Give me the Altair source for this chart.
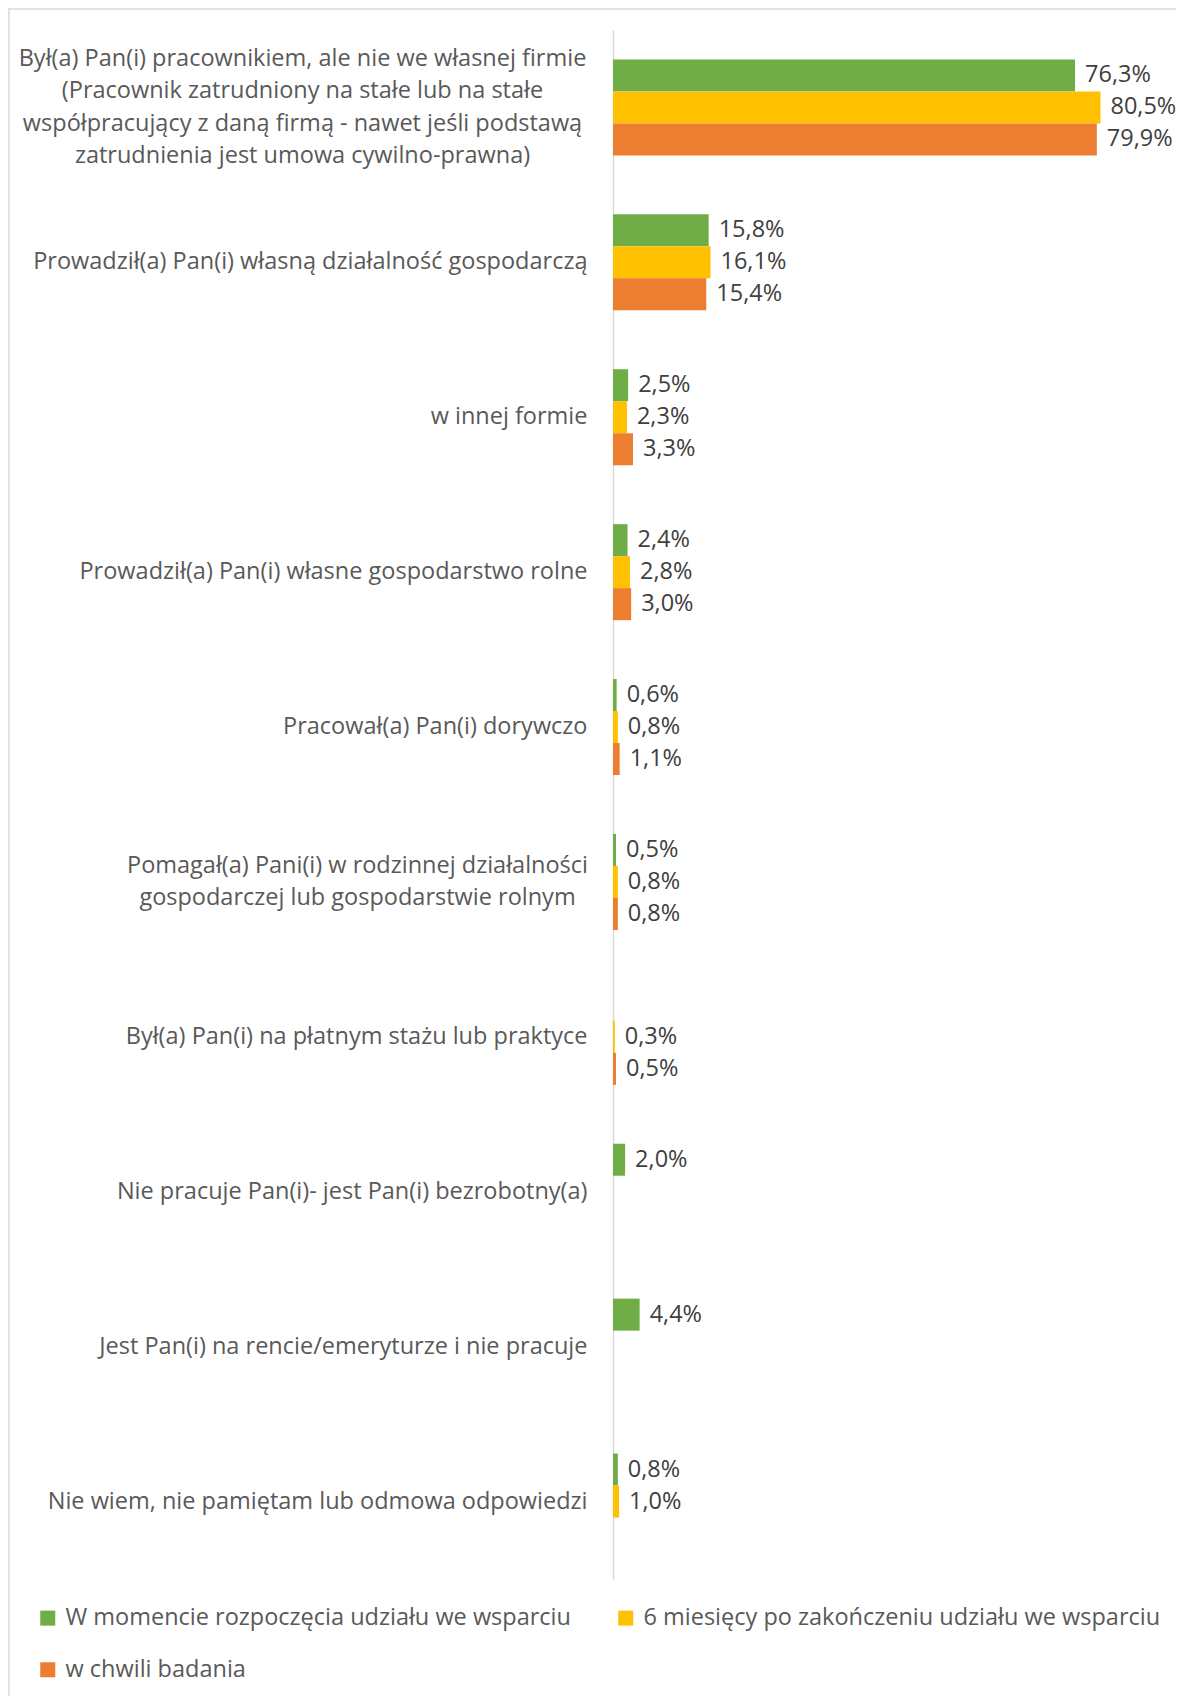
import altair as alt
import pandas as pd

categories = [
    "Był(a) Pan(i) pracownikiem, ale nie we własnej firmie|(Pracownik zatrudniony na stałe lub na stałe|współpracujący z daną firmą - nawet jeśli podstawą|zatrudnienia jest umowa cywilno-prawna)",
    "Prowadził(a) Pan(i) własną działalność gospodarczą",
    "w innej formie\u00a0",
    "Prowadził(a) Pan(i) własne gospodarstwo rolne",
    "Pracował(a) Pan(i) dorywczo",
    "Pomagał(a) Pani(i) w rodzinnej działalności|gospodarczej lub gospodarstwie rolnym",
    "Był(a) Pan(i) na płatnym stażu lub praktyce",
    "Nie pracuje Pan(i)- jest Pan(i) bezrobotny(a)",
    "Jest Pan(i) na rencie/emeryturze i nie pracuje",
    "Nie wiem, nie pamiętam lub odmowa odpowiedzi",
]
series = [
    "W momencie rozpoczęcia udziału we wsparciu",
    "6 miesięcy po zakończeniu udziału we wsparciu",
    "w chwili badania",
]
green = [76.3, 15.8, 2.5, 2.4, 0.6, 0.5, None, 2.0, 4.4, 0.8]
yellow = [80.5, 16.1, 2.3, 2.8, 0.8, 0.8, 0.3, None, None, 1.0]
orange = [79.9, 15.4, 3.3, 3.0, 1.1, 0.8, 0.5, None, None, None]
colors = ["#70AD47", "#FFC000", "#ED7D31"]

rows = []
for s, vals in zip(series, [green, yellow, orange]):
    for c, v in zip(categories, vals):
        if v is not None:
            rows.append({"kategoria": c, "seria": s, "wartosc": v})
df = pd.DataFrame(rows)

FONT = "Open Sans"
FS = 23.5
LH = 32.6

y_enc = alt.Y(
    "kategoria:N",
    sort=categories,
    scale=alt.Scale(paddingInner=0.38, paddingOuter=0.19),
    axis=alt.Axis(
        title=None,
        ticks=False,
        grid=False,
        domain=True,
        domainColor="#d9d9d9",
        domainWidth=1.5,
        labelFont=FONT,
        labelFontSize=FS,
        labelColor="#595959",
        labelLimit=0,
        labelLineHeight=LH,
        labelExpr="split(datum.label, '|')",
        labelAlign={
            "condition": {"test": "indexof(datum.value, '|') >= 0", "value": "center"},
            "value": "right",
        },
        labelPadding={
            "condition": [
                {"test": "indexof(datum.value, 'pracownikiem') >= 0", "value": 311},
                {"test": "indexof(datum.value, 'Pomagał') >= 0", "value": 256},
            ],
            "value": 26,
        },
        labelOffset={
            "condition": [
                {"test": "indexof(datum.value, 'pracownikiem') >= 0", "value": -1.5 * LH},
                {"test": "indexof(datum.value, 'Pomagał') >= 0", "value": -0.5 * LH},
            ],
            "value": 0,
        },
    ),
)
x_enc = alt.X("wartosc:Q", scale=alt.Scale(domain=[0, 90]), axis=None)
yoff = alt.YOffset("seria:N", sort=series, scale=alt.Scale(paddingInner=0, paddingOuter=0))

bars = alt.Chart(df).mark_bar().encode(
    x=x_enc,
    y=y_enc,
    yOffset=yoff,
    color=alt.Color(
        "seria:N",
        sort=series,
        scale=alt.Scale(domain=series, range=colors),
        legend=alt.Legend(
            title=None,
            orient="none",
            legendX=-577,
            legendY=1576,
            padding=0,
            columns=2,
            direction="horizontal",
            symbolType="square",
            symbolSize=225,
            symbolStrokeWidth=0,
            labelFont=FONT,
            labelFontSize=FS,
            labelColor="#595959",
            labelOffset=6,
            labelLimit=0,
            columnPadding=43,
            rowPadding=27,
        ),
    ),
)

text = (
    alt.Chart(df)
    .transform_calculate(lab="replace(format(datum.wartosc, '.1f'), '.', ',') + '%'")
    .mark_text(align="left", baseline="middle", dx=10, font=FONT, fontSize=FS, color="#404040")
    .encode(x=x_enc, y=alt.Y("kategoria:N", sort=categories), yOffset=yoff, text="lab:N")
)

frame_src = alt.Data(values=[{"k": 1}])
left_line = alt.Chart(frame_src).mark_rule(color="#d9d9d9", strokeWidth=1.5).encode(
    x=alt.value(-604), y=alt.value(-22), y2=alt.value(1666)
)
top_line = alt.Chart(frame_src).mark_rule(color="#d9d9d9", strokeWidth=1.5).encode(
    x=alt.value(-604), x2=alt.value(563), y=alt.value(-21)
)

chart = (
    alt.layer(bars, text, left_line, top_line)
    .properties(
        width=545,
        height=1549,
        padding={"left": 605, "top": 22, "right": 18, "bottom": 117},
        autosize=alt.AutoSizeParams(type="none"),
    )
    .configure_view(stroke=None)
)

chart.save("out.html", embed_options={"renderer": "svg", "actions": False})
